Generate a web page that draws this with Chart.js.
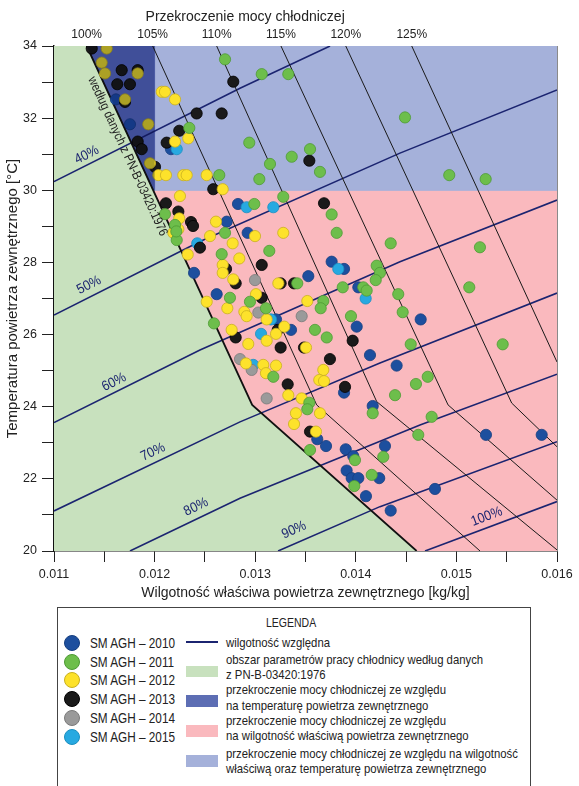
<!DOCTYPE html>
<html lang="pl">
<head>
<meta charset="utf-8">
<title>Przekroczenie mocy chłodniczej</title>
<script src="https://cdn.jsdelivr.net/npm/chart.js@4.4.1/dist/chart.umd.min.js"></script>
<style>
  body { margin: 0; background: #fff; }
  #page { position: relative; width: 579px; height: 786px; overflow: hidden;
          font-family: "Liberation Sans", Arial, sans-serif; color: #222; }
  #chartBox { position: absolute; left: 0; top: 0; width: 579px; height: 605px; }
  #legend { position: absolute; left: 57px; top: 607px; width: 474px; height: 190px;
            border: 1px solid #444; box-sizing: border-box; }
  #legend .t { position: absolute; white-space: nowrap; line-height: 14px;
               transform: scaleX(0.84); transform-origin: 0 50%; }
  #legend .dot { position: absolute; width: 16px; height: 16px; border-radius: 50%; box-sizing: border-box; }
  #legend .sw { position: absolute; left: 128px; width: 32px; }
  .big { font-size: 14px; }
  .small { font-size: 13.5px; }
</style>
</head>
<body>
<div id="page">
  <div id="chartBox"><canvas id="chart"></canvas></div>
  <div id="legend">
    <div class="t" style="left:208px;top:8px;font-size:12.5px;">LEGENDA</div>

    <div class="dot" style="left:6px;top:27px;background:#1d4f9e;border:1px solid #163f80;"></div>
    <div class="dot" style="left:6px;top:46px;background:#6dbe4b;border:1px solid #4e9a35;"></div>
    <div class="dot" style="left:6px;top:64px;background:#fde22b;border:1px solid #c9b020;"></div>
    <div class="dot" style="left:6px;top:83px;background:#1a1a1a;border:1px solid #000;"></div>
    <div class="dot" style="left:6px;top:102px;background:#9a9a9a;border:1px solid #7a7a7a;"></div>
    <div class="dot" style="left:6px;top:121px;background:#27a9e1;border:1px solid #1b8fc0;"></div>

    <div class="t big" style="left:32px;top:28px;">SM AGH – 2010</div>
    <div class="t big" style="left:32px;top:47px;">SM AGH – 2011</div>
    <div class="t big" style="left:32px;top:65px;">SM AGH – 2012</div>
    <div class="t big" style="left:32px;top:84px;">SM AGH – 2013</div>
    <div class="t big" style="left:32px;top:103px;">SM AGH – 2014</div>
    <div class="t big" style="left:32px;top:122px;">SM AGH – 2015</div>

    <div class="sw" style="top:33px;height:2px;background:#1b2470;"></div>
    <div class="sw" style="top:58px;height:11px;background:#c8e1be;"></div>
    <div class="sw" style="top:87px;height:12px;background:#5d6eb4;"></div>
    <div class="sw" style="top:117px;height:12px;background:#fab9be;"></div>
    <div class="sw" style="top:147px;height:12px;background:#a5b1da;"></div>

    <div class="t small" style="left:168px;top:28px;">wilgotność względna</div>
    <div class="t small" style="left:168px;top:45px;">obszar parametrów pracy chłodnicy według danych</div>
    <div class="t small" style="left:168px;top:60px;">z PN-B-03420:1976</div>
    <div class="t small" style="left:168px;top:75px;">przekroczenie mocy chłodniczej ze względu</div>
    <div class="t small" style="left:168px;top:91px;">na temperaturę powietrza zewnętrznego</div>
    <div class="t small" style="left:168px;top:106px;">przekroczenie mocy chłodniczej ze względu</div>
    <div class="t small" style="left:168px;top:121px;">na wilgotność właściwą powietrza zewnętrznego</div>
    <div class="t small" style="left:168px;top:139px;">przekroczenie mocy chłodniczej ze względu na wilgotność</div>
    <div class="t small" style="left:168px;top:154px;">właściwą oraz temperaturę powietrza zewnętrznego</div>
  </div>
</div>
<script>
// axis ticks
const xTickVals = [0.011, 0.0115, 0.012, 0.0125, 0.013, 0.0135, 0.014, 0.0145, 0.015, 0.0155, 0.016];
const yTickVals = [20, 21, 22, 23, 24, 25, 26, 27, 28, 29, 30, 31, 32, 33, 34];
const capLabels = ['100%', '105%', '110%', '115%', '120%', '125%'];
const capTitle = 'Przekroczenie mocy chłodniczej';
const capTitleX = 0.0129;

// areas [x, T]
const areaNorm = [[0.011, 20], [0.011, 34], [0.011325, 34], [0.01297, 24.05], [0.014605, 20]];
const areaTemp = [[0.011325, 34], [0.012, 34], [0.012, 30], [0.011987, 30]];
const areaHum = [[0.011987, 30], [0.016, 30], [0.016, 20], [0.014605, 20], [0.01297, 24.05]];
const areaBoth = [[0.012, 30], [0.012, 34], [0.016, 34], [0.016, 30]];

// cooling capacity lines (labels sit over the top end of each line)
const cap100 = [[0.011325, 34], [0.01297, 24.05], [0.014605, 20]];
const cap105 = [[0.011981, 34], [0.013611, 24.05], [0.015235, 20]];
const cap110 = [[0.012617, 34], [0.014208, 24.14], [0.016, 20.03]];
const cap115 = [[0.013256, 34], [0.014917, 24.05], [0.016, 21.41]];
const cap120 = [[0.0139, 34], [0.01555, 24.1], [0.016, 22.89]];
const cap125 = [[0.014556, 34], [0.016, 25.24]];
const capLines = [cap100, cap105, cap110, cap115, cap120, cap125];

// relative humidity lines
const rh40 = [[0.011, 30.24], [0.012849, 32.83], [0.013744, 34]];
const rh50 = [[0.011, 26.54], [0.012451, 28.58], [0.014439, 31.03], [0.016, 32.78]];
const rh60 = [[0.011, 23.56], [0.012451, 25.57], [0.014439, 28.02], [0.016, 29.73]];
const rh70 = [[0.011, 21.11], [0.012849, 23.58], [0.01424, 25.21], [0.016, 27.15]];
const rh80 = [[0.011755, 20], [0.012849, 21.46], [0.014638, 23.49], [0.016, 24.9]];
const rh90 = [[0.013227, 20], [0.01424, 21.23], [0.016, 23.03]];
const rh100 = [[0.014688, 20], [0.016, 21.37]];
const rhNames = ['40%', '50%', '60%', '70%', '80%', '90%', '100%'];
const rhLabelAt = [[0.011325, 30.98], [0.011348, 27.37], [0.011596, 24.68], [0.011984, 22.74],
                   [0.012412, 21.22], [0.013386, 20.58], [0.015301, 20.95]];
const pnTextAt = [0.011731, 30.94];

// measurements [x kg/kg, T °C]
const pts2010 = [[0.011616, 32.52], [0.012163, 31.14], [0.011755, 31.83], [0.012829, 29.62], [0.012717, 29.13],
  [0.012925, 28.82], [0.012392, 27.71], [0.012617, 27.12], [0.01376, 28.02], [0.013883, 27.82], [0.013528, 27.62],
  [0.014025, 27.31], [0.013207, 26.42], [0.014009, 26.22], [0.013356, 26.13], [0.014141, 25.43], [0.014406, 25.14],
  [0.014645, 26.42], [0.013883, 24.39], [0.014168, 24.02], [0.013617, 23.1], [0.013704, 22.91], [0.0139, 22.82],
  [0.01429, 22.91], [0.013975, 22.63], [0.013909, 22.23], [0.014233, 22.02], [0.013959, 22.02], [0.014025, 22.02],
  [0.014101, 21.52], [0.014347, 21.12], [0.015294, 23.22], [0.015848, 23.22], [0.014787, 21.72]];
const pts2011 = [[0.0127, 33.63], [0.013065, 33.22], [0.013329, 33.22], [0.012345, 31.73], [0.012643, 30.42],
  [0.012103, 29.34], [0.012941, 31.32], [0.013545, 31.14], [0.013363, 30.93], [0.013147, 30.73], [0.013644, 30.51],
  [0.013041, 30.31], [0.013279, 29.82], [0.012991, 29.62], [0.01376, 29.33], [0.014489, 32.02], [0.014929, 30.42],
  [0.015291, 30.31], [0.012203, 29.04], [0.01222, 28.62], [0.0127, 28.82], [0.012667, 28.23], [0.01314, 28.32],
  [0.01381, 28.82], [0.014347, 28.53], [0.015234, 28.42], [0.014208, 27.91], [0.01424, 27.71], [0.014198, 27.51],
  [0.013418, 27.42], [0.012749, 27.02], [0.01387, 27.31], [0.014074, 27.31], [0.014108, 27.22], [0.015128, 27.31],
  [0.014422, 27.12], [0.012948, 26.91], [0.013677, 26.93], [0.013651, 26.73], [0.013107, 26.73], [0.014466, 26.62],
  [0.01259, 26.31], [0.013952, 26.51], [0.013594, 26.13], [0.013711, 25.92], [0.014546, 25.73], [0.01546, 25.73],
  [0.01318, 24.83], [0.014715, 24.83], [0.014598, 24.63], [0.01439, 24.32], [0.013538, 24.11], [0.013518, 23.93],
  [0.014168, 23.82], [0.014754, 23.72], [0.014621, 23.22], [0.013545, 22.8], [0.013992, 22.52], [0.014273, 22.61],
  [0.014158, 22.11], [0.013985, 21.8], [0.012216, 28.86]];
const pts2012 = [[0.011524, 33.93], [0.011474, 33.54], [0.011507, 33.24], [0.011832, 33.24], [0.011706, 32.52],
  [0.012071, 32.73], [0.012103, 32.73], [0.012203, 32.52], [0.011937, 31.83], [0.012203, 31.35], [0.012335, 31.44],
  [0.011954, 30.75], [0.012037, 30.42], [0.012113, 30.42], [0.012285, 30.42], [0.012319, 30.42], [0.012518, 30.42],
  [0.012677, 30.03], [0.012252, 29.84], [0.012245, 29.22], [0.01261, 29.13], [0.012186, 28.82], [0.012236, 28.92],
  [0.012551, 28.73], [0.012329, 28.22], [0.012998, 28.73], [0.013279, 28.82], [0.012776, 28.53], [0.012842, 28.11],
  [0.012677, 27.93], [0.012677, 27.71], [0.012782, 27.53], [0.01323, 27.42], [0.013008, 27.12], [0.012518, 26.91],
  [0.013518, 26.93], [0.012723, 26.73], [0.012892, 26.63], [0.012915, 26.51], [0.013114, 26.42], [0.013289, 26.22],
  [0.012766, 26.13], [0.013207, 26.02], [0.013114, 25.83], [0.012931, 25.74], [0.013505, 25.64], [0.012908, 25.2],
  [0.01308, 25.16], [0.013207, 25.14], [0.013677, 25.02], [0.013107, 24.93], [0.013637, 24.74], [0.013684, 24.71],
  [0.013329, 24.32], [0.013462, 24.23], [0.013405, 23.82], [0.013644, 23.82], [0.013386, 23.52], [0.013604, 23.31]];
const pts2013 = [[0.011375, 33.93], [0.011673, 33.33], [0.011832, 33.33], [0.011629, 32.94], [0.011755, 32.94],
  [0.011706, 32.45], [0.012782, 33.01], [0.012418, 32.13], [0.012667, 32.13], [0.012245, 31.65], [0.011832, 31.35],
  [0.011872, 31.14], [0.01212, 31.32], [0.012004, 30.65], [0.012583, 30.03], [0.012113, 29.64], [0.012236, 29.41],
  [0.013538, 30.82], [0.013684, 29.64], [0.012362, 29.12], [0.012382, 29.01], [0.012451, 28.41], [0.013065, 27.93],
  [0.01271, 27.82], [0.012806, 27.42], [0.013253, 27.42], [0.013386, 27.42], [0.013065, 27.02], [0.013224, 26.13],
  [0.012806, 25.92], [0.013969, 25.83], [0.013253, 25.64], [0.013485, 25.64], [0.013743, 25.32], [0.013323, 24.62],
  [0.013893, 24.55], [0.013545, 23.31]];
const pts2014 = [[0.012998, 27.51], [0.013031, 26.61], [0.013462, 26.51], [0.012849, 25.32], [0.012965, 25.02],
  [0.013114, 24.23]];
const pts2015 = [[0.01222, 31.14], [0.012915, 29.53], [0.01318, 29.53], [0.012424, 28.53], [0.013826, 27.82],
  [0.014098, 27.0], [0.013157, 26.42], [0.013058, 26.02], [0.012981, 25.16]];

const FONT = '"Liberation Sans", Arial, sans-serif';
const INK = '#222';
const RH_COLOR = '#1b2470';
const TEMP_AREA = '#5d6eb4';

const toXY = arr => arr.map(([x, y]) => ({ x, y }));
const toPx = (chart, p) => [chart.scales.x.getPixelForValue(p[0]), chart.scales.y.getPixelForValue(p[1])];

const areas = [[areaNorm, '#c8e1be'], [areaHum, '#fab9be'], [areaBoth, '#a5b1da'], [areaTemp, TEMP_AREA]];

function polyPath(chart, ctx, poly) {
  ctx.beginPath();
  poly.forEach((p, i) => {
    const [X, Y] = toPx(chart, p);
    if (i) ctx.lineTo(X, Y); else ctx.moveTo(X, Y);
  });
  ctx.closePath();
}

function clipArea(chart, ctx) {
  const a = chart.chartArea;
  ctx.beginPath();
  ctx.rect(a.left, a.top, a.right - a.left, a.bottom - a.top);
  ctx.clip();
}

const areaPlugin = {
  id: 'areas',
  beforeDatasetsDraw(chart) {
    const ctx = chart.ctx;
    ctx.save();
    clipArea(chart, ctx);
    areas.forEach(([poly, color]) => {
      polyPath(chart, ctx, poly);
      ctx.fillStyle = color;
      ctx.strokeStyle = color;
      ctx.lineWidth = 1;
      ctx.fill();
      ctx.stroke();
    });
    ctx.restore();
  },
  afterDatasetsDraw(chart) {
    // the temperature-exceedance band is laid over the markers in the original, dimming them
    const ctx = chart.ctx;
    ctx.save();
    clipArea(chart, ctx);
    ctx.globalCompositeOperation = 'multiply';
    ctx.globalAlpha = 0.5;
    polyPath(chart, ctx, areaTemp);
    ctx.fillStyle = TEMP_AREA;
    ctx.fill();
    ctx.restore();
  }
};

function segmentAngle(chart, line, xv) {
  let i = 0;
  while (i < line.length - 2 && line[i + 1][0] < xv) i++;
  const [x1, y1] = toPx(chart, line[i]);
  const [x2, y2] = toPx(chart, line[i + 1]);
  return Math.atan2(y2 - y1, x2 - x1);
}

const rhLines = [rh40, rh50, rh60, rh70, rh80, rh90, rh100];

const labelPlugin = {
  id: 'labels',
  afterDatasetsDraw(chart) {
    const ctx = chart.ctx, a = chart.chartArea;
    ctx.save();
    // right frame
    ctx.strokeStyle = '#8a8a8a';
    ctx.lineWidth = 1;
    ctx.beginPath();
    ctx.moveTo(a.right + 0.5, a.top);
    ctx.lineTo(a.right + 0.5, a.bottom);
    ctx.stroke();

    ctx.textAlign = 'center';
    ctx.textBaseline = 'middle';

    // title of the top axis
    ctx.fillStyle = INK;
    ctx.font = '14px ' + FONT;
    ctx.fillText(capTitle, chart.scales.x.getPixelForValue(capTitleX), 17);

    ctx.fillStyle = RH_COLOR;
    ctx.font = '14px ' + FONT;
    rhNames.forEach((name, i) => {
      const [X, Y] = toPx(chart, rhLabelAt[i]);
      ctx.save();
      ctx.translate(X, Y);
      ctx.rotate(segmentAngle(chart, rhLines[i], rhLabelAt[i][0]));
      ctx.scale(0.9, 1);
      ctx.fillText(name, 0, 0);
      ctx.restore();
    });

    const [X, Y] = toPx(chart, pnTextAt);
    ctx.translate(X, Y);
    ctx.rotate(segmentAngle(chart, cap100, cap100[0][0]));
    ctx.scale(0.85, 1);
    ctx.fillStyle = INK;
    ctx.font = '13px ' + FONT;
    ctx.fillText('według danych z PN-B-03420:1976', 0, 0);
    ctx.restore();
  }
};

const lineSet = (arr, color, width) => ({
  data: toXY(arr), showLine: true, pointRadius: 0, borderColor: color,
  borderWidth: width, fill: false, tension: 0, order: 5
});
const pointSet = (arr, fillColor, edgeColor) => ({
  data: toXY(arr), showLine: false, pointRadius: 5.6, pointHoverRadius: 5.6,
  backgroundColor: fillColor, borderColor: edgeColor, borderWidth: 0.8, order: 1
});

Chart.defaults.font.family = FONT;
Chart.defaults.color = INK;

new Chart(document.getElementById('chart'), {
  type: 'scatter',
  data: {
    datasets: [
      lineSet(cap105, '#1a1a1a', 1),
      lineSet(cap110, '#1a1a1a', 1),
      lineSet(cap115, '#1a1a1a', 1),
      lineSet(cap120, '#1a1a1a', 1),
      lineSet(cap125, '#1a1a1a', 1),
      lineSet(cap100, '#111', 1.8),
      ...rhLines.map(l => lineSet(l, RH_COLOR, 1.6)),
      pointSet(pts2011, '#6dbe4b', '#4e9a35'),
      pointSet(pts2012, '#fde22b', '#c9b020'),
      pointSet(pts2014, '#9a9a9a', '#7a7a7a'),
      pointSet(pts2013, '#1a1a1a', '#000'),
      pointSet(pts2015, '#27a9e1', '#1b8fc0'),
      pointSet(pts2010, '#1d4f9e', '#163f80')
    ]
  },
  options: {
    responsive: true,
    maintainAspectRatio: false,
    animation: false,
    layout: { padding: { left: 0, right: 22, top: 0, bottom: 0 } },
    plugins: { legend: { display: false }, tooltip: { enabled: false } },
    scales: {
      x: {
        type: 'linear', position: 'bottom', min: 0.011, max: 0.016,
        afterBuildTicks: s => { s.ticks = xTickVals.map(v => ({ value: v })); },
        afterFit: s => { s.height = 54; },
        grid: { drawOnChartArea: false, tickLength: 11, color: INK },
        border: { color: '#111', width: 1.5 },
        ticks: {
          autoSkip: false, maxRotation: 0, padding: 5, font: { size: 12.5 },
          callback: v => (Math.abs(v * 1000 - Math.round(v * 1000)) < 1e-6 ? v.toFixed(3) : '')
        },
        title: { display: true, text: 'Wilgotność właściwa powietrza zewnętrznego [kg/kg]',
                 font: { size: 14 }, padding: { top: 0, bottom: 3 } }
      },
      xTop: {
        type: 'linear', position: 'top', min: 0.011, max: 0.016,
        afterBuildTicks: s => { s.ticks = capLines.map(l => ({ value: l[0][0] })); },
        afterFit: s => { s.height = 46; },
        grid: { display: false, drawTicks: false },
        border: { display: false },
        ticks: { autoSkip: false, maxRotation: 0, padding: 4, font: { size: 12 },
                 callback: (v, i) => capLabels[i] }
      },
      y: {
        type: 'linear', min: 20, max: 34,
        afterBuildTicks: s => { s.ticks = yTickVals.map(v => ({ value: v })); },
        afterFit: s => { s.width = 54; },
        grid: { drawOnChartArea: false, tickLength: 12, color: INK },
        border: { color: '#111', width: 1.5 },
        ticks: { autoSkip: false, padding: 5, font: { size: 12.5 },
                 callback: v => (v % 2 === 0 ? String(v) : '') },
        title: { display: true, text: 'Temperatura powietrza zewnętrznego [°C]',
                 font: { size: 15 }, padding: { top: 4, bottom: 0 } }
      }
    }
  },
  plugins: [areaPlugin, labelPlugin]
});
</script>
</body>
</html>
